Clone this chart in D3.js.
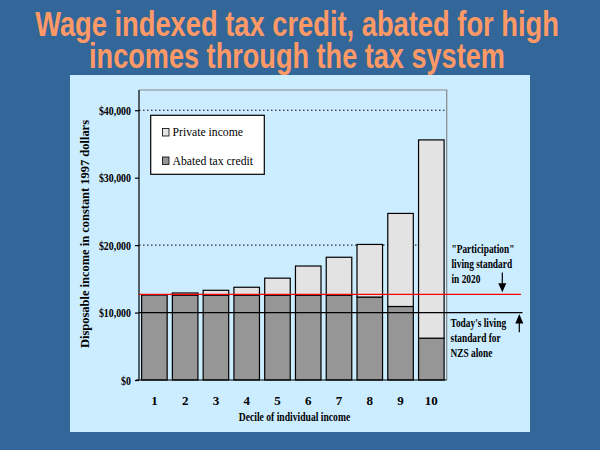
<!DOCTYPE html>
<html>
<head>
<meta charset="utf-8">
<script src="https://cdn.jsdelivr.net/npm/d3@7"></script>
<style>
  body { margin: 0; background: #336699; }
  svg { display: block; }
</style>
</head>
<body>
<div id="chart"></div>
<script>
// data (dollars, 1997)
var deciles = ["1","2","3","4","5","6","7","8","9","10"]
var taxCredit = [12600,12600,12600,12600,12600,12600,12600,12300,10900,6200]
var privateIncome = [0,300,700,1150,2500,4300,5600,7800,13800,29400]
var yTicks = [0,10000,20000,30000,40000]
var gridValues = [20000,40000]
var participationLevel = 12700
var todayLevel = 10000
var participationNote = ["\"Participation\"","living standard","in 2020"]
var todayNote = ["Today's living","standard for","NZS alone"]
var legendNames = ["Private income","Abated tax credit"]
var titleLines = ["Wage indexed tax credit, abated for high","incomes through the tax system"]

var lightFill = "#e3e3e3", darkFill = "#969696"
var serif = "'Liberation Serif','Times New Roman',serif"

var W = 600, H = 450
var svg = d3.select("#chart").append("svg").attr("width",W).attr("height",H)

svg.append("rect").attr("width",W).attr("height",H).attr("fill","#336699")

// title: size the font to the slide width, then stretch it upright
var titleWidths = [524,416]
var titleG = svg.selectAll(".title")
  .data(titleLines)
  .enter().append("g")
  .attr("class","title")
var titleText = titleG.append("text")
  .text(function(d){return d})
  .attr("text-anchor","middle")
  .style("font-family","'Liberation Sans Narrow','Liberation Sans',Arial,sans-serif")
  .style("font-weight","bold")
  .style("font-size","35px")
  .attr("fill","#ff9966")
titleText.each(function(d,i){
  var w = this.getComputedTextLength()
  var fs = 35*titleWidths[i]/w
  d3.select(this).style("font-size",fs+"px")
  d3.select(this.parentNode).attr("transform","translate(297,"+(36+i*32)+") scale(1,"+(35/fs)+")")
})

// light panel
svg.append("rect").attr("x",70).attr("y",75).attr("width",460).attr("height",357).attr("fill","#ccecff")

// squeeze text to look like the narrow serif in the slide
function condense(sel, k){
  sel.each(function(){
    var w = this.getComputedTextLength()
    d3.select(this).attr("textLength",w*k).attr("lengthAdjust","spacingAndGlyphs")
  })
}

var plot = {left:139, right:446.7, top:90, bottom:380}

var x = d3.scaleBand().domain(deciles).range([plot.left,plot.right]).paddingInner(0.17).paddingOuter(0.085)
var y = d3.scaleLinear().domain([0,43000]).range([plot.bottom,plot.top])

// dotted gridlines
svg.selectAll(".grid")
  .data(gridValues)
  .enter().append("line")
  .attr("x1",plot.left).attr("x2",plot.right)
  .attr("y1",function(d){return y(d)}).attr("y2",function(d){return y(d)})
  .attr("stroke","#000").attr("stroke-width",1)
  .attr("stroke-dasharray","1.5,2.5")

// frame top and right
svg.append("path")
  .attr("d","M"+plot.left+","+plot.top+"H"+plot.right+"V"+plot.bottom)
  .attr("fill","none").attr("stroke","#888").attr("stroke-width",1.2)

// bars: credit at the bottom, private income stacked on top
var bars = svg.selectAll(".bar").data(deciles).enter().append("g")
bars.append("rect")
  .attr("x",function(d){return x(d)})
  .attr("width",x.bandwidth())
  .attr("y",function(d,i){return y(taxCredit[i])})
  .attr("height",function(d,i){return y(0)-y(taxCredit[i])})
  .attr("fill",darkFill).attr("stroke","#000").attr("stroke-width",1.2)
bars.append("rect")
  .attr("x",function(d){return x(d)})
  .attr("width",x.bandwidth())
  .attr("y",function(d,i){return y(taxCredit[i]+privateIncome[i])})
  .attr("height",function(d,i){return y(taxCredit[i])-y(taxCredit[i]+privateIncome[i])})
  .attr("fill",lightFill).attr("stroke","#000").attr("stroke-width",1.2)

// y axis
var yAxis = svg.append("g")
  .attr("transform","translate("+plot.left+",0)")
  .call(d3.axisLeft(y).tickValues(yTicks).tickSize(4).tickPadding(4)
    .tickFormat(function(d){return "$"+d3.format(",")(d)}))
yAxis.select(".domain").attr("d","M0,"+plot.top+"V"+plot.bottom).attr("stroke","#000").attr("stroke-width",1.2)
yAxis.selectAll(".tick line").attr("stroke","#000").attr("stroke-width",1.2)
yAxis.selectAll("text")
  .style("font-family",serif).style("font-weight","bold").style("font-size","13px").attr("fill","#000")
  .call(condense,0.76)

// x axis
var xAxis = svg.append("g")
  .attr("transform","translate(0,"+plot.bottom+")")
  .call(d3.axisBottom(x).tickSize(0).tickPadding(16))
xAxis.select(".domain").attr("d","M"+(plot.left-3)+",0H"+plot.right).attr("stroke","#000").attr("stroke-width",1.2)
xAxis.selectAll("text")
  .style("font-family",serif).style("font-weight","bold").style("font-size","13px").attr("fill","#000")

// axis titles
svg.append("text")
  .text("Decile of individual income")
  .attr("x",294.5).attr("y",421)
  .attr("text-anchor","middle")
  .style("font-family",serif).style("font-weight","bold").style("font-size","13px")
  .call(condense,0.74)

svg.append("text")
  .text("Disposable income in constant 1997 dollars")
  .attr("transform","translate(89,234) rotate(-90)")
  .attr("text-anchor","middle")
  .style("font-family",serif).style("font-weight","bold").style("font-size","13px")
  .attr("textLength",228).attr("lengthAdjust","spacingAndGlyphs")

// reference lines
svg.append("line")
  .attr("x1",plot.left).attr("x2",522.5)
  .attr("y1",y(todayLevel)).attr("y2",y(todayLevel))
  .attr("stroke","#000").attr("stroke-width",1.2)
svg.append("line")
  .attr("x1",plot.left).attr("x2",521)
  .attr("y1",y(participationLevel)).attr("y2",y(participationLevel))
  .attr("stroke","#ff0000").attr("stroke-width",1.2)

// notes on the right
svg.selectAll(".pnote")
  .data(participationNote)
  .enter().append("text")
  .text(function(d){return d})
  .attr("x",451.5)
  .attr("y",function(d,i){return 252.5+i*15})
  .style("font-family",serif).style("font-weight","bold").style("font-size","13px")
  .call(condense,0.72)
svg.selectAll(".tnote")
  .data(todayNote)
  .enter().append("text")
  .text(function(d){return d})
  .attr("x",450.5)
  .attr("y",function(d,i){return 326.5+i*15})
  .style("font-family",serif).style("font-weight","bold").style("font-size","13px")
  .call(condense,0.72)

// arrows
var pY = y(participationLevel), tY = y(todayLevel)
svg.append("line").attr("x1",502.3).attr("x2",502.3).attr("y1",272.5).attr("y2",pY-6)
  .attr("stroke","#000").attr("stroke-width",1.2)
svg.append("path")
  .attr("d","M498.3,"+(pY-11)+"L506.3,"+(pY-11)+"L502.3,"+(pY-2)+"Z").attr("fill","#000")
svg.append("line").attr("x1",519.3).attr("x2",519.3).attr("y1",tY+6).attr("y2",332.3)
  .attr("stroke","#000").attr("stroke-width",1.2)
svg.append("path")
  .attr("d","M515.3,"+(tY+11)+"L523.3,"+(tY+11)+"L519.3,"+(tY+1.5)+"Z").attr("fill","#000")

// legend
var legend = svg.append("g")
legend.append("rect").attr("x",150.7).attr("y",115.3).attr("width",113.6).attr("height",59)
  .attr("fill","#fff").attr("stroke","#000").attr("stroke-width",1.2)
var items = legend.selectAll(".item").data(legendNames).enter().append("g")
  .attr("transform",function(d,i){return "translate(162.5,"+(128.5+i*28.5)+")"})
items.append("rect").attr("width",6.5).attr("height",7.5)
  .attr("fill",function(d,i){return i==0 ? lightFill : darkFill})
  .attr("stroke","#000").attr("stroke-width",0.8)
items.append("text")
  .text(function(d){return d})
  .attr("x",10).attr("y",7.8)
  .style("font-family",serif).style("font-size","13px")
  .call(condense,0.9)
</script>
</body>
</html>
